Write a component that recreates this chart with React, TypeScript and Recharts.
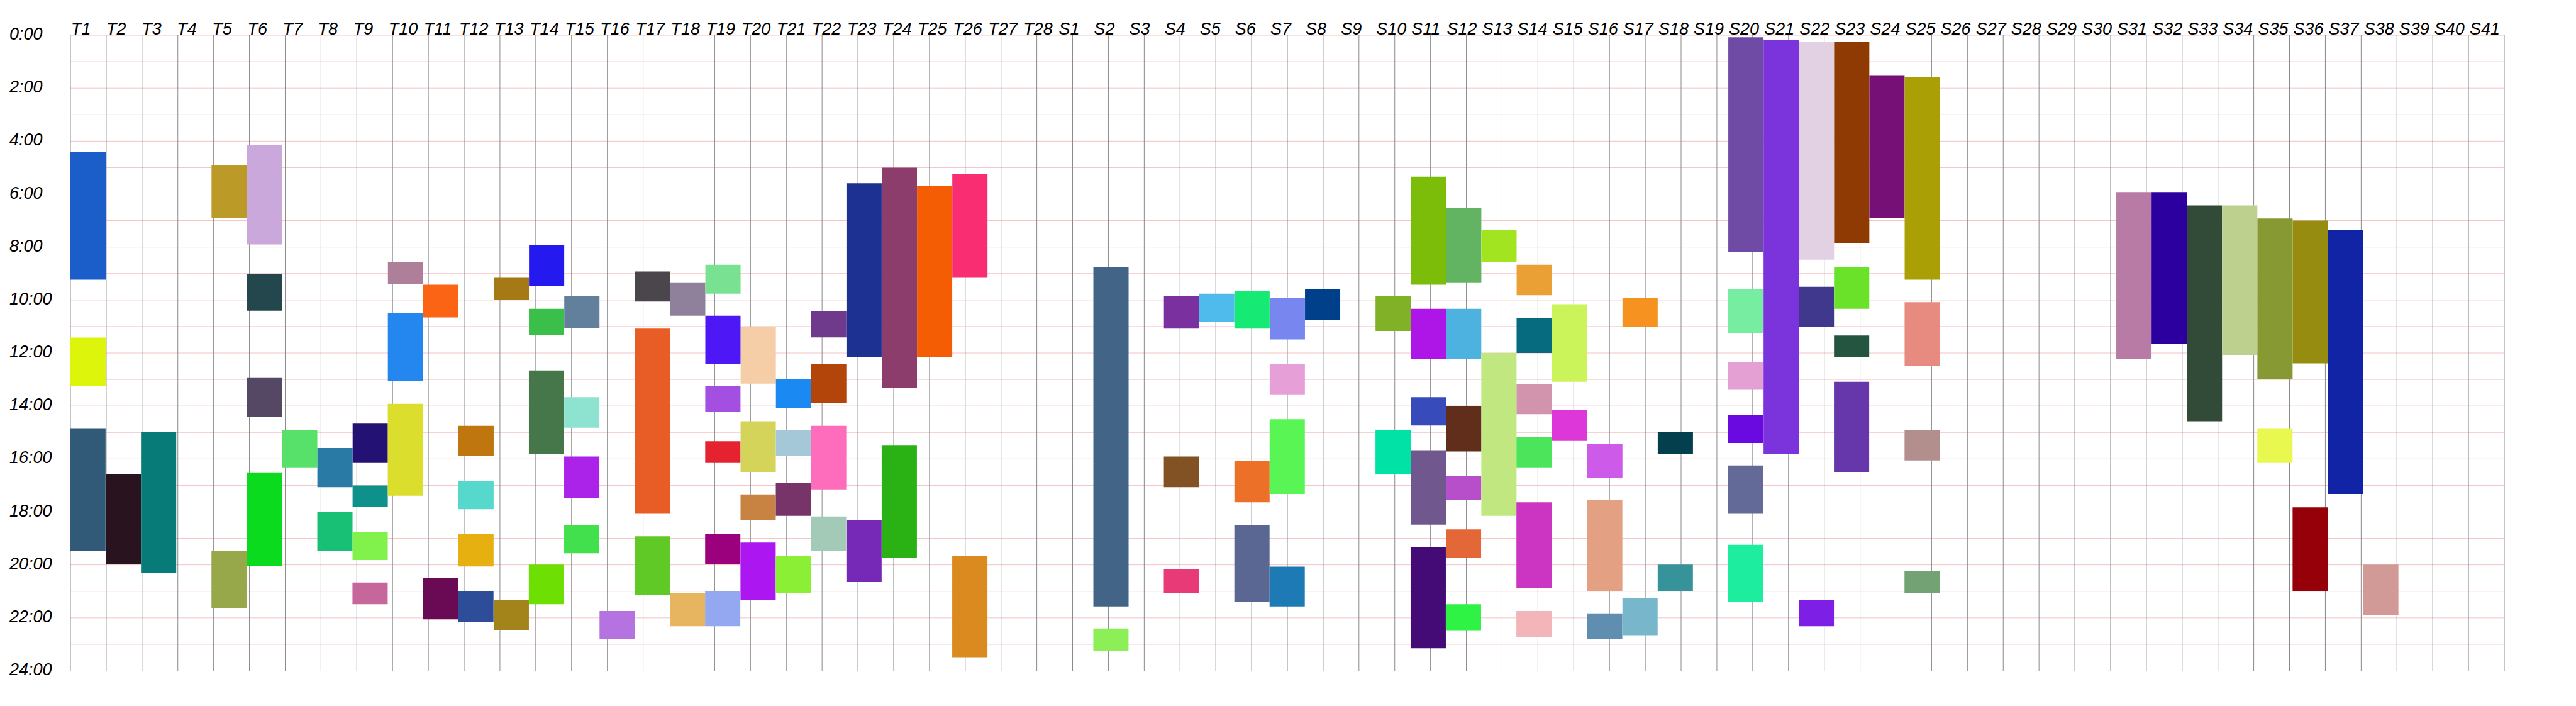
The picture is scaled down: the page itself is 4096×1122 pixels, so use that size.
import { BarChart, Bar, Cell, XAxis, YAxis, CartesianGrid } from "recharts";

const categories = [
  "T1", "T2", "T3", "T4", "T5", "T6", "T7", "T8", "T9", "T10",
  "T11", "T12", "T13", "T14", "T15", "T16", "T17", "T18", "T19", "T20",
  "T21", "T22", "T23", "T24", "T25", "T26", "T27", "T28",
  "S1", "S2", "S3", "S4", "S5", "S6", "S7", "S8", "S9", "S10",
  "S11", "S12", "S13", "S14", "S15", "S16", "S17", "S18", "S19", "S20",
  "S21", "S22", "S23", "S24", "S25", "S26", "S27", "S28", "S29", "S30",
  "S31", "S32", "S33", "S34", "S35", "S36", "S37", "S38", "S39", "S40", "S41",
];

// [start hour, end hour] for each block, one list per column
const spans: [number, number][][] = [
  [[4.42, 9.23], [11.42, 13.24], [14.84, 19.48]], // T1
  [[16.57, 19.97]],
  [[14.99, 20.31]],
  [],
  [[4.91, 6.9], [19.48, 21.64]], // T5
  [[4.16, 7.9], [9.01, 10.4], [12.92, 14.4], [16.51, 20.04]],
  [[14.91, 16.32]],
  [[15.59, 17.07], [18.0, 19.48]],
  [[14.67, 16.15], [17.0, 17.81], [18.75, 19.82], [20.67, 21.49]],
  [[8.58, 9.4], [10.5, 13.07], [13.92, 17.39]], // T10
  [[9.42, 10.66], [20.5, 22.06]],
  [[14.75, 15.89], [16.83, 17.9], [18.83, 20.06], [20.99, 22.15]],
  [[9.16, 9.98], [21.33, 22.47]],
  [[7.92, 9.48], [10.33, 11.32], [12.66, 15.81], [19.99, 21.49]],
  [[9.84, 11.07], [13.67, 14.82], [15.91, 17.47], [18.49, 19.56]], // T15
  [[21.74, 22.81]],
  [[8.92, 10.06], [11.08, 18.07], [18.92, 21.15]],
  [[9.33, 10.59], [21.08, 22.32]],
  [[8.67, 9.76], [10.59, 12.41], [13.24, 14.23], [15.33, 16.15], [18.83, 19.97], [20.99, 22.32]],
  [[11.0, 13.16], [14.58, 16.49], [17.34, 18.31], [19.16, 21.32]], // T20
  [[13.0, 14.07], [14.91, 15.89], [16.91, 18.15], [19.67, 21.08]],
  [[10.42, 11.41], [12.41, 13.9], [14.75, 17.15], [18.17, 19.48]],
  [[5.59, 12.15], [18.32, 20.65]],
  [[5.0, 13.31], [15.5, 19.74]],
  [[5.68, 12.15]], // T25
  [[5.25, 9.16], [19.67, 23.49]],
  [],
  [],
  [], // S1
  [[8.75, 21.57], [22.4, 23.24]],
  [],
  [[9.84, 11.08], [15.91, 17.07], [20.16, 21.08]],
  [[9.76, 10.83]], // S5
  [[9.67, 11.08], [16.08, 17.64], [18.49, 21.4]],
  [[9.91, 11.49], [12.41, 13.56], [14.5, 17.32], [20.07, 21.57]],
  [[9.59, 10.74]],
  [],
  [[9.84, 11.17], [14.91, 16.57]], // S10
  [[5.34, 9.42], [10.33, 12.24], [13.67, 14.74], [15.67, 18.48], [19.33, 23.15]],
  [[6.51, 9.33], [10.33, 12.24], [14.01, 15.72], [16.66, 17.56], [18.66, 19.74], [21.49, 22.49]],
  [[7.34, 8.58], [12.0, 18.15]],
  [[8.67, 9.82], [10.67, 12.0], [13.17, 14.31], [15.16, 16.32], [17.64, 20.89], [21.74, 22.74]],
  [[10.16, 13.09], [14.16, 15.32]], // S15
  [[15.42, 16.73], [17.56, 20.98], [21.83, 22.81]],
  [[9.91, 11.0], [21.25, 22.66]],
  [[14.99, 15.81], [19.99, 20.99]],
  [],
  [[0.08, 8.18], [9.59, 11.25], [12.34, 13.39], [14.33, 15.4], [16.25, 18.07], [19.24, 21.4]], // S20
  [[0.17, 15.81]],
  [[0.25, 8.48], [9.5, 11.0], [21.33, 22.32]],
  [[0.25, 7.84], [8.75, 10.33], [11.34, 12.15], [13.09, 16.49]],
  [[1.51, 6.9]],
  [[1.58, 9.23], [10.08, 12.48], [14.91, 16.06], [20.24, 21.06]], // S25
  [],
  [],
  [],
  [],
  [], // S30
  [[5.92, 12.24]],
  [[5.92, 11.66]],
  [[6.43, 14.58]],
  [[6.43, 12.07]],
  [[6.92, 13.0], [14.84, 16.15]], // S35
  [[7.0, 12.39], [17.83, 20.99]],
  [[7.34, 17.32]],
  [[19.99, 21.89]],
  [],
  [],
  [],
];

const spanColors: string[][] = [
  ["#1b5ec9", "#dcf50a", "#305a78"],
  ["#28131e"],
  ["#077b78"],
  [],
  ["#bc9a28", "#97a84a"],
  ["#cba8dc", "#23474c", "#554865", "#0bdb1f"],
  ["#57e06a"],
  ["#2a7aa6", "#17c074"],
  ["#231174", "#0f918b", "#80f24b", "#c5679a"],
  ["#ae7f98", "#2486ef", "#dbde2d"],
  ["#fb6315", "#6a0a55"],
  ["#c0760f", "#56d8cc", "#e6b011", "#2e4d99"],
  ["#a57915", "#a2841a"],
  ["#2419ee", "#3abf4a", "#45774a", "#6ddf02"],
  ["#627f9b", "#8ee2d0", "#ab22e8", "#41e04c"],
  ["#b473e0"],
  ["#4b454c", "#e85d26", "#61c926"],
  ["#8f819b", "#e7b460"],
  ["#79e292", "#4e17f5", "#a34fe1", "#e5222f", "#9b007d", "#93a8f0"],
  ["#f5cda7", "#d4d45a", "#c88343", "#ab16f1"],
  ["#1a8af2", "#a5c8d8", "#773468", "#8bef36"],
  ["#703a8c", "#b3450a", "#fe6cbc", "#a3c9b7"],
  ["#1c3192", "#7629b6"],
  ["#8c3d6c", "#2ab215"],
  ["#f45d03"],
  ["#f92e72", "#da8a1f"],
  [],
  [],
  [],
  ["#426587", "#8cef57"],
  [],
  ["#7b30a0", "#825224", "#e73a76"],
  ["#4fbbec"],
  ["#16ea74", "#ec7028", "#5a6792"],
  ["#7887ef", "#e6a0d7", "#59f555", "#1d7ab4"],
  ["#003f8a"],
  [],
  ["#80b126", "#01e2a7"],
  ["#7bbd08", "#ae16e8", "#384bbb", "#70588e", "#440a76"],
  ["#62b462", "#4db2e0", "#612e1b", "#b74fca", "#e46738", "#2ef244"],
  ["#a2e420", "#c1e880"],
  ["#eba035", "#076b80", "#d294ad", "#4be45a", "#cb35c2", "#f3b5b8"],
  ["#cbf45a", "#dd36d9"],
  ["#cd5ae8", "#e3a083", "#5f8eb0"],
  ["#f69320", "#78b7cb"],
  ["#033f4c", "#36939a"],
  [],
  ["#704ba6", "#76eda0", "#e4a0d2", "#6b0ae0", "#646a97", "#1ced9f"],
  ["#7b33dc"],
  ["#e2d0e3", "#40388c", "#7d1fe5"],
  ["#8f3a03", "#6ae22a", "#245540", "#6637aa"],
  ["#760f76"],
  ["#aaa006", "#e78b80", "#b28f8d", "#73a274"],
  [],
  [],
  [],
  [],
  [],
  ["#b87ba5"],
  ["#2c009f"],
  ["#324b38"],
  ["#bdd08d"],
  ["#869933", "#e8f84f"],
  ["#958c10", "#950009"],
  ["#1124a5"],
  ["#d29a96"],
  [],
  [],
  [],
];

const hourTicks = [0, 2, 4, 6, 8, 10, 12, 14, 16, 18, 20, 22, 24];
const hourLines = Array.from({ length: 24 }, (_, i) => i);
const columnLines = categories.map((_, i) => i);

const slots = Math.max(...spans.map((s) => s.length));
const slotKeys = Array.from({ length: slots }, (_, k) => `s${k}`);

const rows = categories.map((name, i) => {
  const row: Record<string, unknown> = { name };
  spans[i].forEach((s, k) => {
    row[`s${k}`] = s;
  });
  return row;
});

const FONT = "'Liberation Sans', Arial, sans-serif";
const LABEL_LEFT = 15;

const ColumnTick = (props: any) => {
  const { x, y, payload, width } = props;
  const half =
    typeof payload.offset === "number" && payload.offset > 0
      ? payload.offset
      : width / categories.length / 2;
  return (
    <text
      x={x - half + 1}
      y={y - 1}
      fontSize={27}
      fontStyle="italic"
      fontFamily={FONT}
      fill="#000"
    >
      {payload.value}
    </text>
  );
};

const HourTick = (props: any) => {
  const { y, payload } = props;
  return (
    <text
      x={LABEL_LEFT}
      y={y + 7}
      textAnchor="start"
      fontSize={27}
      fontStyle="italic"
      fontFamily={FONT}
      fill="#000"
    >
      {`${payload.value}:00`}
    </text>
  );
};

export default function App() {
  return (
    <div style={{ position: "absolute", left: 0, top: 0, background: "#fff" }}>
      <BarChart
        width={4096}
        height={1122}
        data={rows}
        margin={{ top: 0, right: 114, bottom: 56, left: 0 }}
        barCategoryGap={0}
        barGap="-100%"
      >
        <XAxis
          xAxisId="cat"
          dataKey="name"
          orientation="top"
          height={56}
          interval={0}
          axisLine={false}
          tickLine={false}
          tickSize={0}
          tickMargin={0}
          tick={<ColumnTick />}
        />
        <XAxis
          xAxisId="grid"
          type="number"
          domain={[0, categories.length]}
          ticks={columnLines}
          interval={0}
          allowDataOverflow
          hide
        />
        <YAxis
          yAxisId="main"
          type="number"
          domain={[0, 24]}
          ticks={hourTicks}
          interval={0}
          reversed
          width={112}
          axisLine={false}
          tickLine={false}
          tickSize={0}
          tickMargin={0}
          tick={<HourTick />}
        />
        <YAxis
          yAxisId="grid"
          type="number"
          domain={[0, 24]}
          ticks={hourLines}
          interval={0}
          reversed
          allowDataOverflow
          hide
        />
        <CartesianGrid
          xAxisId="grid"
          yAxisId="grid"
          vertical={false}
          stroke="#f3c3c3"
          strokeWidth={1}
          syncWithTicks
        />
        <CartesianGrid
          xAxisId="grid"
          yAxisId="grid"
          horizontal={false}
          stroke="#8a8a8a"
          strokeWidth={1}
          syncWithTicks
        />
        {slotKeys.map((key, k) => (
          <Bar
            key={key}
            dataKey={key}
            xAxisId="cat"
            yAxisId="main"
            isAnimationActive={false}
          >
            {rows.map((_, i) => (
              <Cell key={`c-${i}`} fill={spanColors[i][k] ?? "none"} />
            ))}
          </Bar>
        ))}
      </BarChart>
    </div>
  );
}
